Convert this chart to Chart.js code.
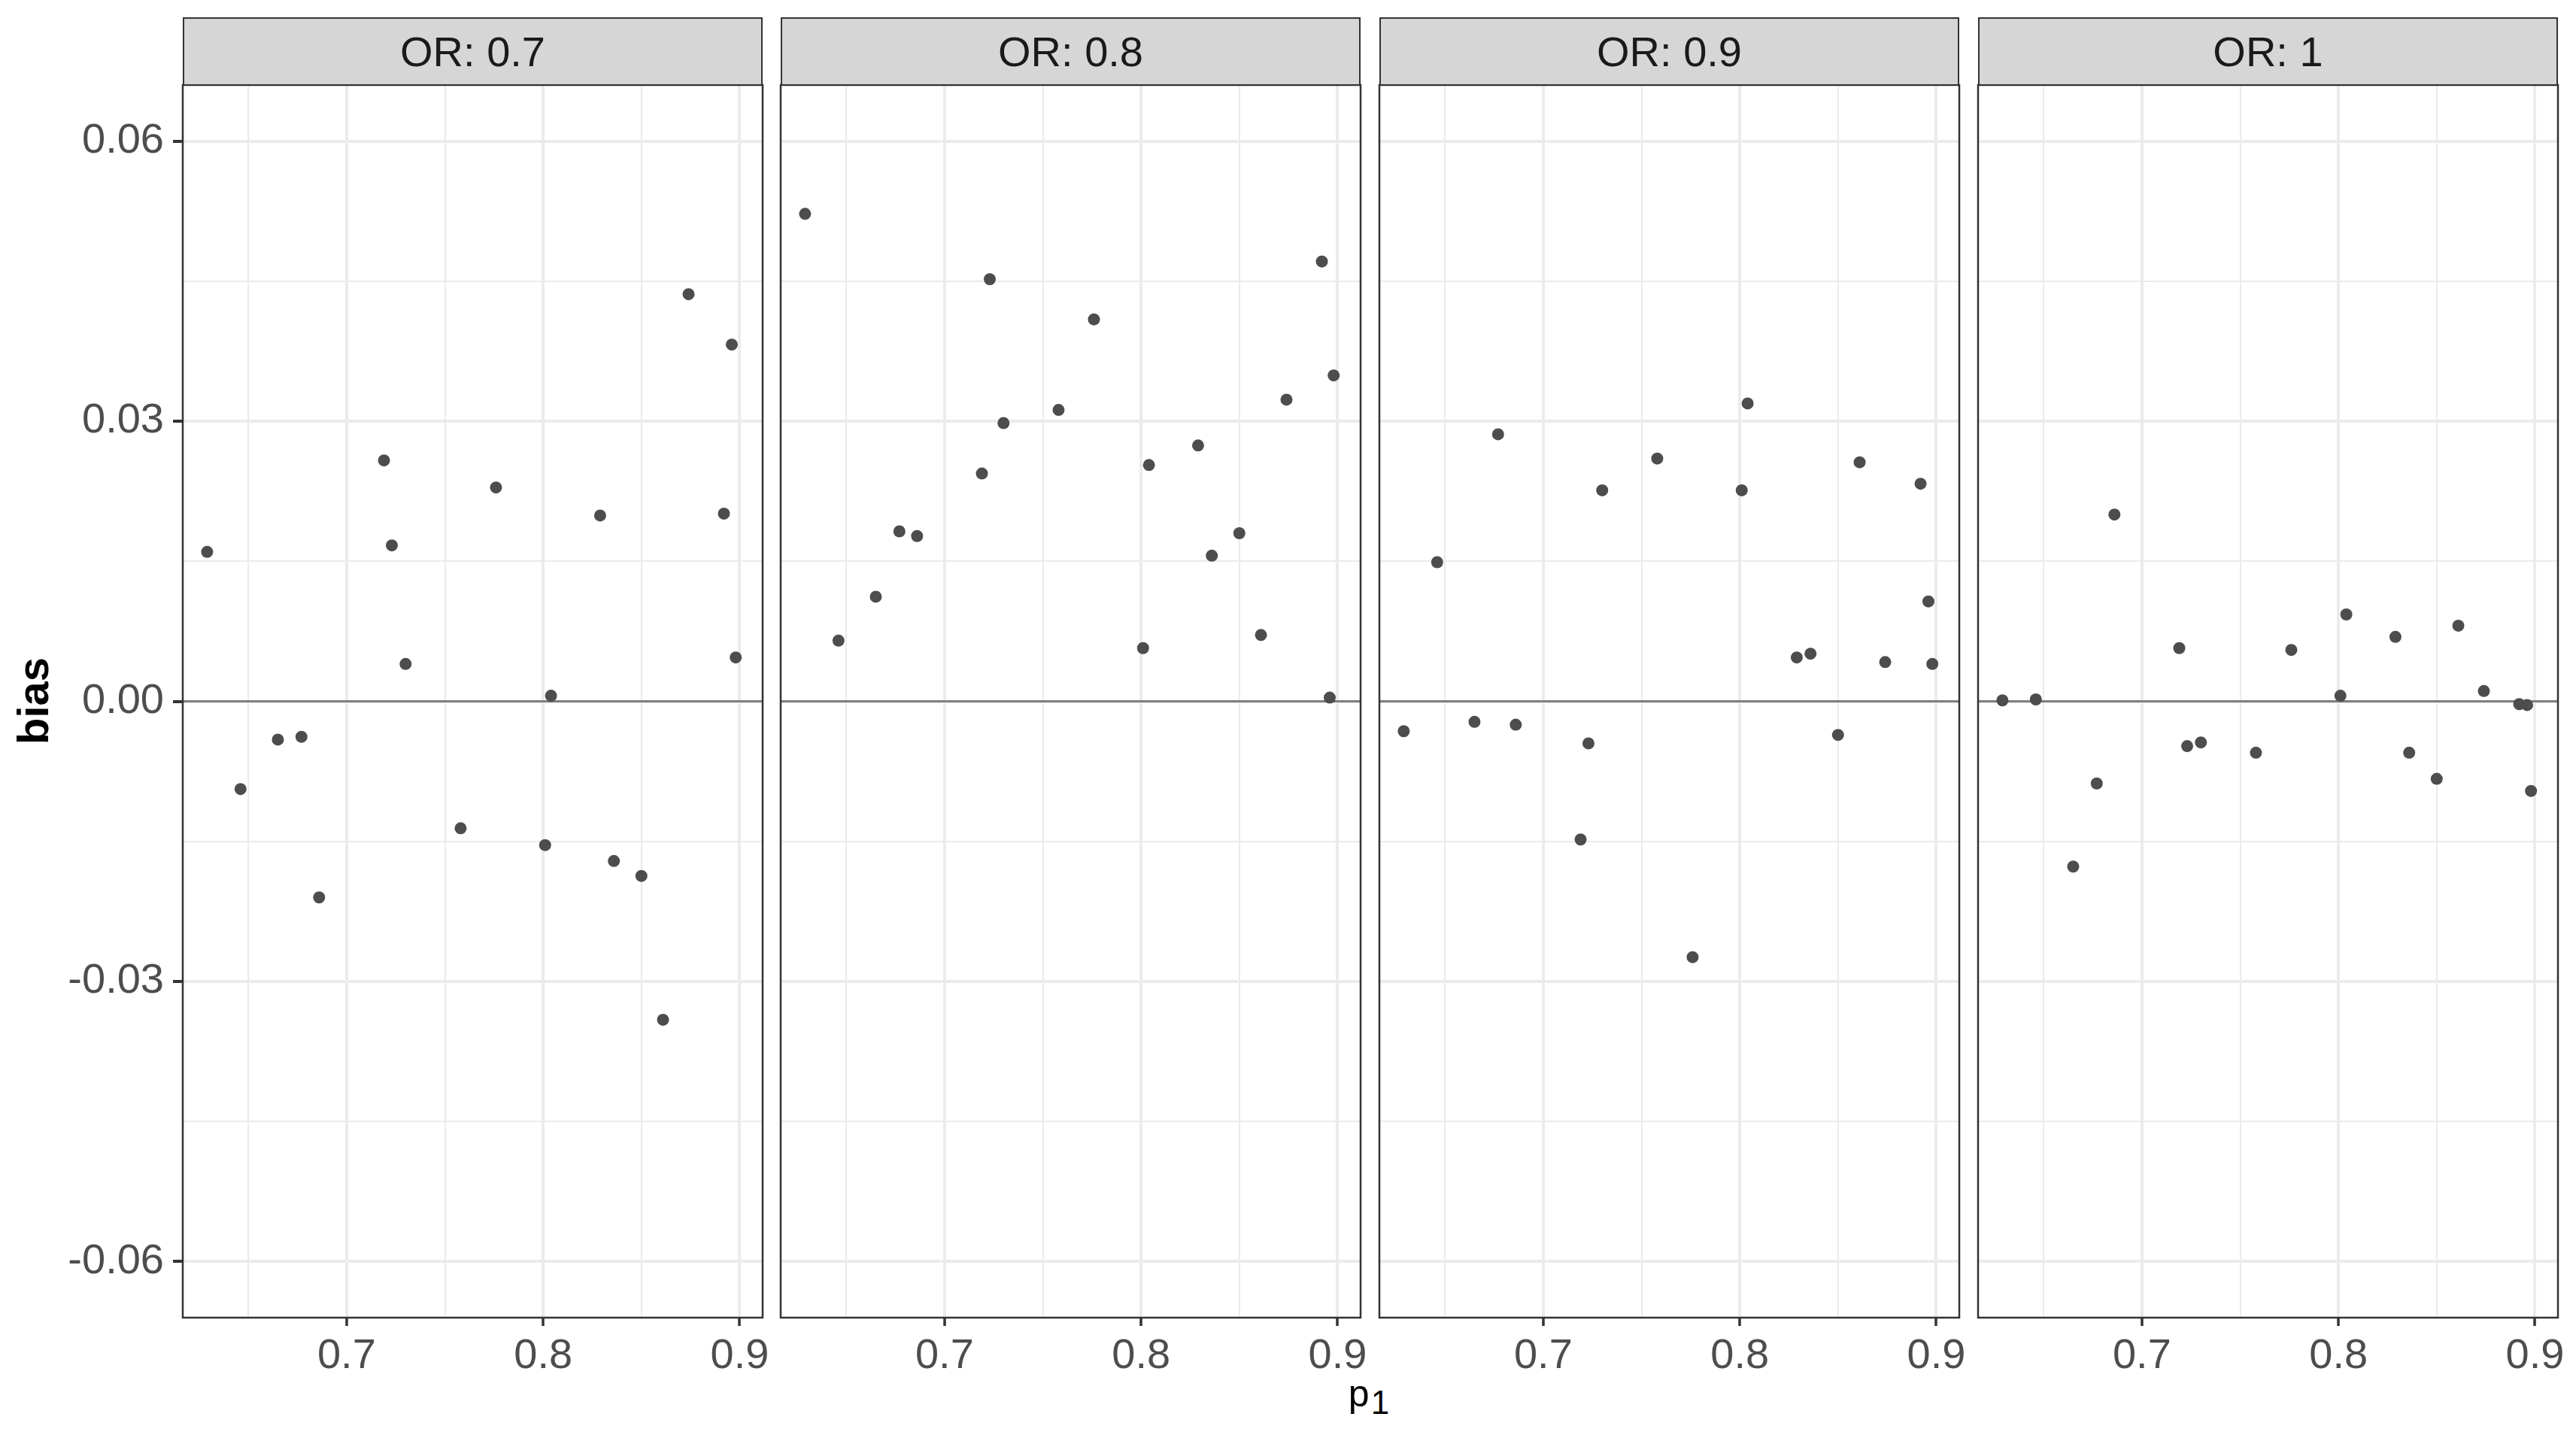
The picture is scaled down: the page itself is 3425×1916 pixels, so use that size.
<!DOCTYPE html>
<html>
<head>
<meta charset="utf-8">
<script src="https://cdn.jsdelivr.net/npm/chart.js@4.4.0/dist/chart.umd.min.js"></script>
<style>
  body { margin: 0; background: #fff; }
  #wrap { position: relative; width: 3425px; height: 1916px; overflow: hidden; background: #fff;
          font-family: "Liberation Sans", Arial, sans-serif; }
  canvas { position: absolute; }
  .strip { position: absolute; top: 23px; height: 91px; box-sizing: border-box; border: 2.5px solid #333;
           background: #D6D6D6; color: #1A1A1A; font-size: 56px; line-height: 1;
           display: flex; align-items: center; justify-content: center; z-index: 2; }
  #ytitle { position: absolute; left: 44px; top: 932px; font-size: 58px; font-weight: bold; line-height: 58px;
            color: #000; white-space: nowrap; transform: translate(-50%, -50%) rotate(-90deg); }
  #xtitle { position: absolute; left: 1820px; top: 1828px; font-size: 50px; line-height: 50px; color: #000;
            transform: translateX(-50%); white-space: nowrap; }
  #xtitle span { font-size: 44px; position: relative; top: 10px; margin-left: 2px; }
</style>
</head>
<body>
<div id="wrap">
  <div id="ytitle">bias</div>
  <div id="xtitle">p<span>1</span></div>
</div>
<script>
// p1 values (shared by every panel)
const p1 = [0.629, 0.646, 0.665, 0.677, 0.686, 0.719, 0.723, 0.730, 0.758, 0.776,
            0.801, 0.804, 0.829, 0.836, 0.850, 0.861, 0.874, 0.892, 0.896, 0.898];

// bias per odds ratio
const bias07 = [0.0160, -0.0094, -0.0041, -0.0038, -0.0210, 0.0258, 0.0167, 0.0040, -0.0136, 0.0229,
                -0.0154, 0.0006, 0.0199, -0.0171, -0.0187, -0.0341, 0.0436, 0.0201, 0.0382, 0.0047];
const bias08 = [0.0522, 0.0065, 0.0112, 0.0182, 0.0177, 0.0244, 0.0452, 0.0298, 0.0312, 0.0409,
                0.0057, 0.0253, 0.0274, 0.0156, 0.0180, 0.0071, 0.0323, 0.0471, 0.0004, 0.0349];
const bias09 = [-0.0032, 0.0149, -0.0022, 0.0286, -0.0025, -0.0148, -0.0045, 0.0226, 0.0260, -0.0274,
                0.0226, 0.0319, 0.0047, 0.0051, -0.0036, 0.0256, 0.0042, 0.0233, 0.0107, 0.0040];
const bias10 = [0.0001, 0.0002, -0.0177, -0.0088, 0.0200, 0.0057, -0.0048, -0.0044, -0.0055, 0.0055,
                0.0006, 0.0093, 0.0069, -0.0055, -0.0083, 0.0081, 0.0011, -0.0003, -0.0004, -0.0096];

const orLabels = ['OR: 0.7', 'OR: 0.8', 'OR: 0.9', 'OR: 1'];
const biasByPanel = [bias07, bias08, bias09, bias10];

// axes
const xLim = [0.6166, 0.9117];
const yLim = [-0.066, 0.066];
const xMajor = [0.7, 0.8, 0.9];
const xMinor = [0.65, 0.75, 0.85];
const yMajor = [-0.06, -0.03, 0, 0.03, 0.06];
const yMinor = [-0.045, -0.015, 0.015, 0.045];

// layout (pixels)
const panelLeft = [243, 1038, 1834, 2630];
const panelW = 771, plotTop = 113, plotH = 1639;
const padTop = 60, padSide = 16, xAxisH = 78, yAxisW = 243;
const FONT = '"Liberation Sans", Arial, sans-serif';

const near = (v, list) => list.some(m => Math.abs(m - v) < 1e-9);
const allX = xMajor.concat(xMinor).sort((a, b) => a - b);
const allY = yMajor.concat(yMinor).sort((a, b) => a - b);

const panelPlugin = {
  id: 'panelDecor',
  beforeDatasetsDraw(chart) {
    // horizontal reference line at zero
    const { ctx, chartArea: a, scales: { y } } = chart;
    const py = y.getPixelForValue(0);
    ctx.save();
    ctx.strokeStyle = '#7F7F7F';
    ctx.lineWidth = 3;
    ctx.beginPath();
    ctx.moveTo(a.left, py);
    ctx.lineTo(a.right, py);
    ctx.stroke();
    ctx.restore();
  },
  afterDatasetsDraw(chart) {
    const { ctx, chartArea: a } = chart;
    ctx.save();
    ctx.strokeStyle = '#333333';
    ctx.lineWidth = 2.5;
    ctx.strokeRect(a.left, a.top, a.right - a.left, a.bottom - a.top);
    ctx.restore();
  }
};

const wrap = document.getElementById('wrap');

biasByPanel.forEach((vals, i) => {
  const first = i === 0;
  const leftW = first ? yAxisW : padSide;
  const cv = document.createElement('canvas');
  cv.width = leftW + panelW + padSide;
  cv.height = padTop + plotH + xAxisH;
  cv.style.left = (panelLeft[i] - leftW) + 'px';
  cv.style.top = (plotTop - padTop) + 'px';
  wrap.appendChild(cv);

  const strip = document.createElement('div');
  strip.className = 'strip';
  strip.style.left = panelLeft[i] + 'px';
  strip.style.width = panelW + 'px';
  strip.textContent = orLabels[i];
  wrap.appendChild(strip);

  new Chart(cv, {
    type: 'scatter',
    data: {
      datasets: [{
        data: p1.map((x, k) => ({ x: x, y: vals[k] })),
        backgroundColor: '#4D4D4D',
        borderWidth: 0,
        pointRadius: 8,
        pointHoverRadius: 8
      }]
    },
    options: {
      responsive: false,
      animation: false,
      devicePixelRatio: 1,
      events: [],
      layout: { padding: { top: padTop, left: first ? 0 : padSide, right: padSide, bottom: 0 } },
      plugins: { legend: { display: false }, tooltip: { enabled: false } },
      scales: {
        x: {
          type: 'linear',
          min: xLim[0],
          max: xLim[1],
          afterBuildTicks: s => { s.ticks = allX.map(v => ({ value: v })); },
          afterFit: s => { s.height = xAxisH; },
          border: { display: false },
          grid: {
            color: '#EBEBEB',
            lineWidth: c => (c.tick && near(c.tick.value, xMajor)) ? 4 : 2,
            tickColor: c => (c.tick && near(c.tick.value, xMajor)) ? '#333333' : 'rgba(0,0,0,0)',
            tickLength: 11,
            tickWidth: 3.5
          },
          ticks: {
            autoSkip: false,
            maxRotation: 0,
            padding: 7,
            color: '#4D4D4D',
            font: { family: FONT, size: 56 },
            callback: v => near(v, xMajor) ? v.toFixed(1) : ''
          }
        },
        y: {
          type: 'linear',
          min: yLim[0],
          max: yLim[1],
          afterBuildTicks: s => { s.ticks = allY.map(v => ({ value: v })); },
          afterFit: s => { s.width = first ? yAxisW : 0; },
          border: { display: false },
          grid: {
            color: '#EBEBEB',
            lineWidth: c => (c.tick && near(c.tick.value, yMajor)) ? 4 : 2,
            tickColor: c => (c.tick && near(c.tick.value, yMajor)) ? '#333333' : 'rgba(0,0,0,0)',
            drawTicks: first,
            tickLength: 13,
            tickWidth: 4
          },
          ticks: {
            display: first,
            autoSkip: false,
            padding: 12,
            color: '#4D4D4D',
            font: { family: FONT, size: 56 },
            callback: v => near(v, yMajor) ? v.toFixed(2) : ''
          }
        }
      }
    },
    plugins: [panelPlugin]
  });
});
</script>
</body>
</html>
